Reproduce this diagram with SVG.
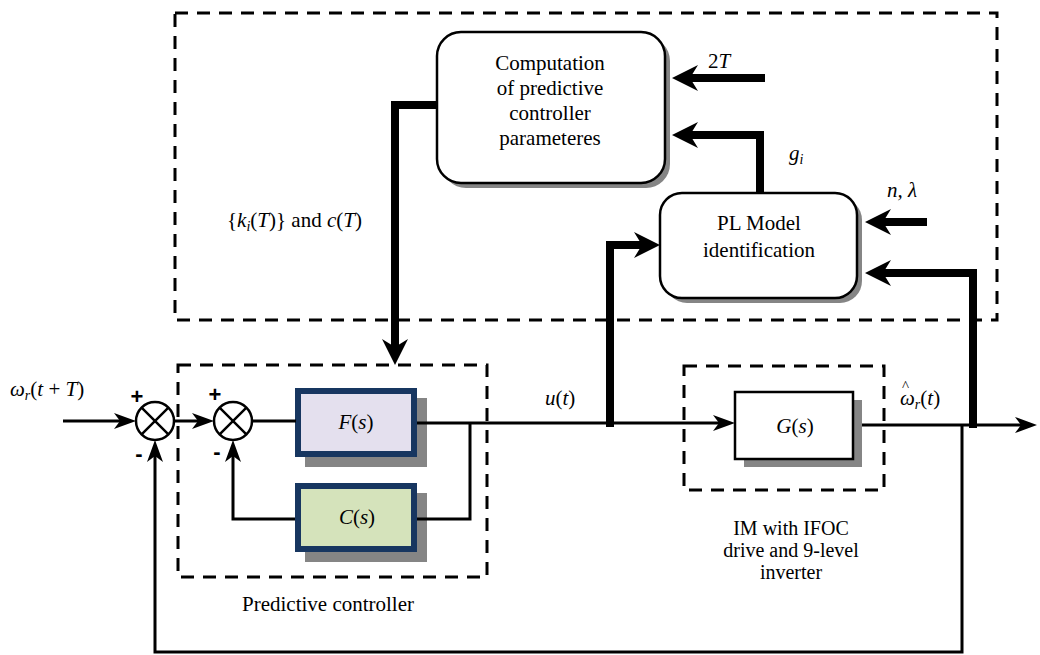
<svg xmlns="http://www.w3.org/2000/svg" width="1040" height="655" viewBox="0 0 1040 655" font-family="Liberation Serif, Tinos, Times New Roman, DejaVu Serif, serif">
<style>
text{font-size:21px;fill:#000}
.i{font-style:italic}
.sub{font-size:14px;font-style:italic}
.c{text-anchor:middle}
.dash{fill:none;stroke:#000;stroke-width:3;stroke-dasharray:13 9}
.thin{fill:none;stroke:#000;stroke-width:3}
.thick{fill:none;stroke:#000;stroke-width:8;stroke-linejoin:miter}
.rbox{fill:#fff;stroke:#000;stroke-width:2.5}
.shadow{fill:#858585}
.sum{fill:#fff;stroke:#000;stroke-width:2.5}
text.sign{font-size:22px;font-weight:bold;text-anchor:middle}
.small{font-size:20px}
</style>
<defs>
<marker id="ah" markerUnits="userSpaceOnUse" markerWidth="22" markerHeight="16" viewBox="0 0 22 16" refX="16" refY="8" orient="auto"><path d="M0,0 L22,8 L0,16 L6,8 Z" fill="#000"/></marker>
<marker id="ahT" markerUnits="userSpaceOnUse" markerWidth="26" markerHeight="26" viewBox="0 0 26 26" refX="14" refY="13" orient="auto"><path d="M0,0 L26,13 L0,26 L8,13 Z" fill="#000"/></marker>
</defs>
<rect width="1040" height="655" fill="#fff"/>

<g id="outer-box"><rect class="dash" x="175" y="13" width="822" height="307"/></g>

<g id="computation">
<rect class="shadow" x="442" y="37" width="228" height="151" rx="24"/>
<rect class="rbox" x="437" y="32" width="228" height="151" rx="24"/>
<text class="c" x="550" y="70">Computation</text>
<text class="c" x="550" y="95">of predictive</text>
<text class="c" x="550" y="120">controller</text>
<text class="c" x="550" y="145">parameteres</text>
</g>

<g id="pl-model">
<rect class="shadow" x="665" y="198" width="197" height="105" rx="22"/>
<rect class="rbox" x="660" y="193" width="197" height="105" rx="22"/>
<text class="c" x="759" y="230">PL Model</text>
<text class="c" x="759" y="257">identification</text>
</g>

<g id="predictive-controller">
<rect class="dash" x="178" y="365" width="309" height="212"/>
<text x="242" y="611">Predictive controller</text>
</g>

<g id="F">
<rect class="shadow" x="305" y="398" width="122" height="69"/>
<rect x="298" y="391" width="116" height="63" fill="#E4E0EE" stroke="#173660" stroke-width="6"/>
<text class="c" x="356" y="429"><tspan class="i">F</tspan>(<tspan class="i">s</tspan>)</text>
</g>

<g id="C">
<rect class="shadow" x="305" y="493" width="122" height="69"/>
<rect x="298" y="486" width="116" height="63" fill="#D5E3BB" stroke="#173660" stroke-width="6"/>
<text class="c" x="357" y="524"><tspan class="i">C</tspan>(<tspan class="i">s</tspan>)</text>
</g>

<g id="plant">
<rect class="dash" x="684" y="366" width="200" height="124"/>
<rect class="shadow" x="744" y="400" width="118" height="67"/>
<rect x="735" y="392" width="118" height="67" fill="#fff" stroke="#000" stroke-width="2.5"/>
<text class="c" x="795" y="433"><tspan class="i">G</tspan>(<tspan class="i">s</tspan>)</text>
<text class="c small" x="791" y="535">IM with IFOC</text>
<text class="c small" x="791" y="557">drive and 9-level</text>
<text class="c small" x="791" y="579">inverter</text>
</g>

<g id="sum1" font-family="Liberation Sans, Arial, sans-serif">
<circle class="sum" cx="155" cy="421" r="19"/>
<path d="M141.6,407.6 L168.4,434.4 M168.4,407.6 L141.6,434.4" stroke="#000" stroke-width="2.5"/>
<text class="sign" x="137" y="404">+</text>
<text class="sign" x="139" y="461">-</text>
</g>

<g id="sum2" font-family="Liberation Sans, Arial, sans-serif">
<circle class="sum" cx="233" cy="421" r="19"/>
<path d="M219.6,407.6 L246.4,434.4 M246.4,407.6 L219.6,434.4" stroke="#000" stroke-width="2.5"/>
<text class="sign" x="215" y="402">+</text>
<text class="sign" x="217" y="459">-</text>
</g>

<g id="connectors">
<path class="thin" d="M63,421 H130" marker-end="url(#ah)"/>
<path class="thin" d="M174,421 H208" marker-end="url(#ah)"/>
<path class="thin" d="M252,421 H296"/>
<path class="thin" d="M417,423 H729" marker-end="url(#ah)"/>
<path class="thin" d="M470,423 V519 H417"/>
<path class="thin" d="M295,519 H233 V446" marker-end="url(#ah)"/>
<path class="thin" d="M862,425 H1031" marker-end="url(#ah)"/>
<path class="thin" d="M962,425 V652 H155 V446" marker-end="url(#ah)"/>
<path class="thick" d="M437,105 H395 V353" marker-end="url(#ahT)"/>
<path class="thick" d="M765,78 H684" marker-end="url(#ahT)"/>
<path class="thick" d="M760,193 V135 H684" marker-end="url(#ahT)"/>
<path class="thick" d="M927,222 H877" marker-end="url(#ahT)"/>
<path class="thick" d="M610,427 V245 H648" marker-end="url(#ahT)"/>
<path class="thick" d="M973,428 V273 H877" marker-end="url(#ahT)"/>
</g>

<g id="labels">
<text x="10" y="396"><tspan class="i">ω</tspan><tspan class="sub" dy="4">r</tspan><tspan dy="-4">(</tspan><tspan class="i">t</tspan> + <tspan class="i">T</tspan>)</text>
<text x="227" y="227">{<tspan class="i">k</tspan><tspan class="sub" dy="4">i</tspan><tspan dy="-4">(</tspan><tspan class="i">T</tspan>)} and <tspan class="i">c</tspan>(<tspan class="i">T</tspan>)</text>
<text x="708" y="68">2<tspan class="i">T</tspan></text>
<text x="789" y="160" class="i">g<tspan class="sub" dy="4">i</tspan></text>
<text x="887" y="197" class="i">n, λ</text>
<text x="545" y="405"><tspan class="i">u</tspan>(<tspan class="i">t</tspan>)</text>
<text><tspan x="902" y="391" style="font-size:15px">^</tspan><tspan x="900" y="405" class="i">ω</tspan><tspan class="sub" dy="4">r</tspan><tspan dy="-4">(</tspan><tspan class="i">t</tspan>)</text>
</g>
</svg>
